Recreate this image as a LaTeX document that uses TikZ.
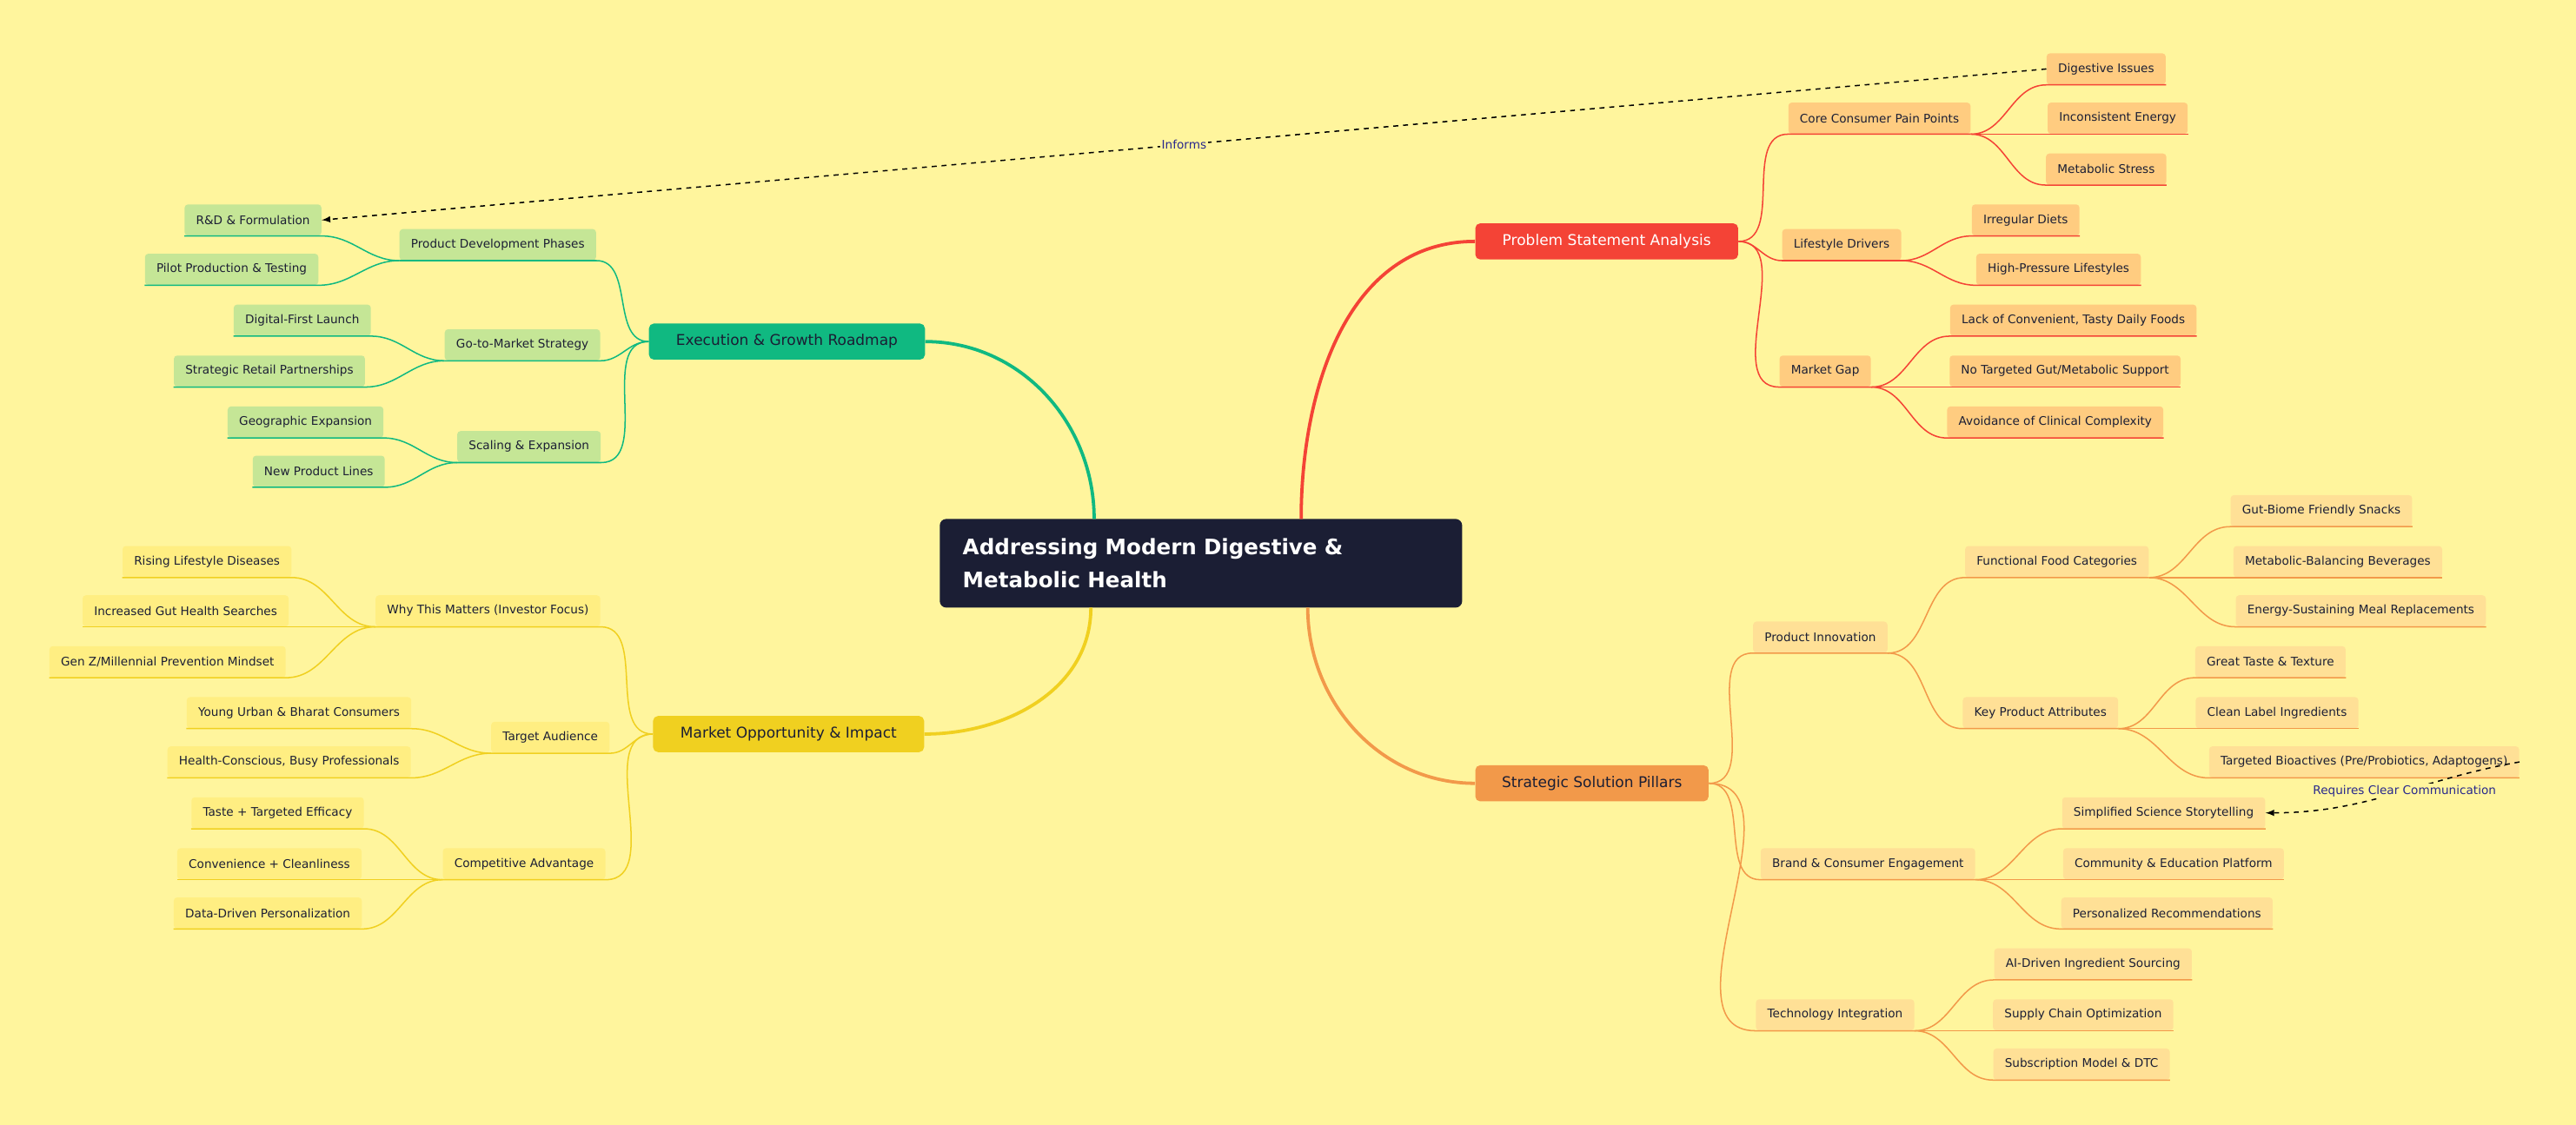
\documentclass[tikz,border=0pt]{standalone}
\usepackage{fontspec}
\setmainfont{DejaVu Sans}
\usetikzlibrary{positioning}
\definecolor{bgcol}{RGB}{255,245,157}
\definecolor{navy}{RGB}{27,30,52}
\definecolor{redc}{RGB}{244,67,54}
\definecolor{redl}{RGB}{255,204,128}
\definecolor{orac}{RGB}{242,153,74}
\definecolor{oral}{RGB}{255,224,150}
\definecolor{grec}{RGB}{16,185,129}
\definecolor{grel}{RGB}{197,230,150}
\definecolor{yelc}{RGB}{240,208,32}
\definecolor{yell}{RGB}{255,238,130}
\definecolor{linkc}{RGB}{40,40,140}
\tikzset{
  leaf/.style={fill=#1, rounded corners=2pt, inner xsep=7pt, minimum height=19pt, font=\fontsize{7.2}{8}\selectfont, text=navy},
  main/.style={fill=#1, rounded corners=3pt, inner xsep=10pt, minimum height=22pt, font=\fontsize{9}{10}\selectfont},
  br/.style={draw=#1, line width=0.8pt},
  trunk/.style={draw=#1, line width=2pt},
  link/.style={draw=black, dashed, line width=0.8pt, -latex},
  lbl/.style={fill=bgcol, inner sep=1pt, text=linkc, font=\fontsize{7.2}{8}\selectfont}
}
\begin{document}
\begin{tikzpicture}[x=1pt,y=-1pt]
\fill[bgcol] (0,0) rectangle (1568,685);
\useasboundingbox (0,0) rectangle (1568,685);
% centre
\node[fill=navy, rounded corners=4pt, text=white, align=left, font=\fontsize{13}{20}\selectfont\bfseries, minimum width=318pt, minimum height=54pt, text width=290pt] (root) at (731,343) {Addressing Modern Digestive \&\\Metabolic Health};
% main branches
\node[main=redc, text=white, minimum width=160pt] (prob) at (978,147) {Problem Statement Analysis};
\node[main=orac, text=navy, minimum width=142pt] (sol) at (969,477) {Strategic Solution Pillars};
\node[main=grec, text=navy, minimum width=168pt] (exe) at (479,208) {Execution \& Growth Roadmap};
\node[main=yelc, text=navy, minimum width=165pt] (mkt) at (480,447) {Market Opportunity \& Impact};
\draw[trunk=redc] (792,316) to[out=90,in=180] (prob.west);
\draw[trunk=orac] (796,370) to[out=-90,in=180] (sol.west);
\draw[trunk=grec] (666,316) to[out=90,in=0] (exe.east);
\draw[trunk=yelc] (664,370) to[out=-90,in=0] (mkt.east);
% problem
\node[leaf=redl] (pain) at (1144,72) {Core Consumer Pain Points};
\node[leaf=redl] (life) at (1121,149) {Lifestyle Drivers};
\node[leaf=redl] (gap) at (1111,226) {Market Gap};
\node[leaf=redl] (dig) at (1282,42) {Digestive Issues};
\node[leaf=redl] (ener) at (1289,72) {Inconsistent Energy};
\node[leaf=redl] (stress) at (1282,103) {Metabolic Stress};
\node[leaf=redl] (diet) at (1233,134) {Irregular Diets};
\node[leaf=redl] (press) at (1253,164) {High-Pressure Lifestyles};
\node[leaf=redl] (lack) at (1262,195) {Lack of Convenient, Tasty Daily Foods};
\node[leaf=redl] (notg) at (1257,226) {No Targeted Gut/Metabolic Support};
\node[leaf=redl] (avoid) at (1251,257) {Avoidance of Clinical Complexity};
\draw[br=redc] (prob.east) to[out=0,in=180] (pain.south west) -- (pain.south east);
\draw[br=redc] (prob.east) to[out=0,in=180] (life.south west) -- (life.south east);
\draw[br=redc] (prob.east) to[out=0,in=180] (gap.south west) -- (gap.south east);
\draw[br=redc] (pain.south east) to[out=0,in=180] (dig.south west) -- (dig.south east);
\draw[br=redc] (pain.south east) to[out=0,in=180] (ener.south west) -- (ener.south east);
\draw[br=redc] (pain.south east) to[out=0,in=180] (stress.south west) -- (stress.south east);
\draw[br=redc] (life.south east) to[out=0,in=180] (diet.south west) -- (diet.south east);
\draw[br=redc] (life.south east) to[out=0,in=180] (press.south west) -- (press.south east);
\draw[br=redc] (gap.south east) to[out=0,in=180] (lack.south west) -- (lack.south east);
\draw[br=redc] (gap.south east) to[out=0,in=180] (notg.south west) -- (notg.south east);
\draw[br=redc] (gap.south east) to[out=0,in=180] (avoid.south west) -- (avoid.south east);
% solution
\node[leaf=oral] (innov) at (1108,388) {Product Innovation};
\node[leaf=oral] (brand) at (1137,526) {Brand \& Consumer Engagement};
\node[leaf=oral] (tech) at (1117,618) {Technology Integration};
\node[leaf=oral] (func) at (1252,342) {Functional Food Categories};
\node[leaf=oral] (attr) at (1242,434) {Key Product Attributes};
\node[leaf=oral] (snack) at (1413,311) {Gut-Biome Friendly Snacks};
\node[leaf=oral] (bev) at (1423,342) {Metabolic-Balancing Beverages};
\node[leaf=oral] (meal) at (1437,372) {Energy-Sustaining Meal Replacements};
\node[leaf=oral] (taste) at (1382,403) {Great Taste \& Texture};
\node[leaf=oral] (clean) at (1386,434) {Clean Label Ingredients};
\node[leaf=oral] (bio) at (1439,464) {Targeted Bioactives (Pre/Probiotics, Adaptogens)};
\node[leaf=oral] (story) at (1317,495) {Simplified Science Storytelling};
\node[leaf=oral] (comm) at (1323,526) {Community \& Education Platform};
\node[leaf=oral] (pers) at (1319,556) {Personalized Recommendations};
\node[leaf=oral] (ai) at (1274,587) {AI-Driven Ingredient Sourcing};
\node[leaf=oral] (chain) at (1268,618) {Supply Chain Optimization};
\node[leaf=oral] (subs) at (1267,648) {Subscription Model \& DTC};
\draw[br=orac] (sol.east) to[out=0,in=180] (innov.south west) -- (innov.south east);
\draw[br=orac] (sol.east) to[out=0,in=180] (brand.south west) -- (brand.south east);
\draw[br=orac] (sol.east) to[out=0,in=180] (tech.south west) -- (tech.south east);
\draw[br=orac] (innov.south east) to[out=0,in=180] (func.south west) -- (func.south east);
\draw[br=orac] (innov.south east) to[out=0,in=180] (attr.south west) -- (attr.south east);
\draw[br=orac] (func.south east) to[out=0,in=180] (snack.south west) -- (snack.south east);
\draw[br=orac] (func.south east) to[out=0,in=180] (bev.south west) -- (bev.south east);
\draw[br=orac] (func.south east) to[out=0,in=180] (meal.south west) -- (meal.south east);
\draw[br=orac] (attr.south east) to[out=0,in=180] (taste.south west) -- (taste.south east);
\draw[br=orac] (attr.south east) to[out=0,in=180] (clean.south west) -- (clean.south east);
\draw[br=orac] (attr.south east) to[out=0,in=180] (bio.south west) -- (bio.south east);
\draw[br=orac] (brand.south east) to[out=0,in=180] (story.south west) -- (story.south east);
\draw[br=orac] (brand.south east) to[out=0,in=180] (comm.south west) -- (comm.south east);
\draw[br=orac] (brand.south east) to[out=0,in=180] (pers.south west) -- (pers.south east);
\draw[br=orac] (tech.south east) to[out=0,in=180] (ai.south west) -- (ai.south east);
\draw[br=orac] (tech.south east) to[out=0,in=180] (chain.south west) -- (chain.south east);
\draw[br=orac] (tech.south east) to[out=0,in=180] (subs.south west) -- (subs.south east);
% execution
\node[leaf=grel] (pdev) at (303,149) {Product Development Phases};
\node[leaf=grel] (gtm) at (318,210) {Go-to-Market Strategy};
\node[leaf=grel] (scale) at (322,272) {Scaling \& Expansion};
\node[leaf=grel] (rnd) at (154,134) {R\&D \& Formulation};
\node[leaf=grel] (pilot) at (141,164) {Pilot Production \& Testing};
\node[leaf=grel] (digi) at (184,195) {Digital-First Launch};
\node[leaf=grel] (retail) at (164,226) {Strategic Retail Partnerships};
\node[leaf=grel] (geo) at (186,257) {Geographic Expansion};
\node[leaf=grel] (lines) at (194,287) {New Product Lines};
\draw[br=grec] (exe.west) to[out=180,in=0] (pdev.south east) -- (pdev.south west);
\draw[br=grec] (exe.west) to[out=180,in=0] (gtm.south east) -- (gtm.south west);
\draw[br=grec] (exe.west) to[out=180,in=0] (scale.south east) -- (scale.south west);
\draw[br=grec] (pdev.south west) to[out=180,in=0] (rnd.south east) -- (rnd.south west);
\draw[br=grec] (pdev.south west) to[out=180,in=0] (pilot.south east) -- (pilot.south west);
\draw[br=grec] (gtm.south west) to[out=180,in=0] (digi.south east) -- (digi.south west);
\draw[br=grec] (gtm.south west) to[out=180,in=0] (retail.south east) -- (retail.south west);
\draw[br=grec] (scale.south west) to[out=180,in=0] (geo.south east) -- (geo.south west);
\draw[br=grec] (scale.south west) to[out=180,in=0] (lines.south east) -- (lines.south west);
% market
\node[leaf=yell] (why) at (297,372) {Why This Matters (Investor Focus)};
\node[leaf=yell] (aud) at (335,449) {Target Audience};
\node[leaf=yell] (adv) at (319,526) {Competitive Advantage};
\node[leaf=yell] (rise) at (126,342) {Rising Lifestyle Diseases};
\node[leaf=yell] (gut) at (113,372) {Increased Gut Health Searches};
\node[leaf=yell] (genz) at (102,403) {Gen Z/Millennial Prevention Mindset};
\node[leaf=yell] (young) at (182,434) {Young Urban \& Bharat Consumers};
\node[leaf=yell] (busy) at (176,464) {Health-Conscious, Busy Professionals};
\node[leaf=yell] (eff) at (169,495) {Taste + Targeted Efficacy};
\node[leaf=yell] (conv) at (164,526) {Convenience + Cleanliness};
\node[leaf=yell] (data) at (163,556) {Data-Driven Personalization};
\draw[br=yelc] (mkt.west) to[out=180,in=0] (why.south east) -- (why.south west);
\draw[br=yelc] (mkt.west) to[out=180,in=0] (aud.south east) -- (aud.south west);
\draw[br=yelc] (mkt.west) to[out=180,in=0] (adv.south east) -- (adv.south west);
\draw[br=yelc] (why.south west) to[out=180,in=0] (rise.south east) -- (rise.south west);
\draw[br=yelc] (why.south west) to[out=180,in=0] (gut.south east) -- (gut.south west);
\draw[br=yelc] (why.south west) to[out=180,in=0] (genz.south east) -- (genz.south west);
\draw[br=yelc] (aud.south west) to[out=180,in=0] (young.south east) -- (young.south west);
\draw[br=yelc] (aud.south west) to[out=180,in=0] (busy.south east) -- (busy.south west);
\draw[br=yelc] (adv.south west) to[out=180,in=0] (eff.south east) -- (eff.south west);
\draw[br=yelc] (adv.south west) to[out=180,in=0] (conv.south east) -- (conv.south west);
\draw[br=yelc] (adv.south west) to[out=180,in=0] (data.south east) -- (data.south west);
% cross links
\draw[link] (dig.west) -- node[lbl] {Informs} (rnd.east);
\draw[link] (bio.east) to[out=190,in=0] node[lbl, pos=0.45] {Requires Clear Communication} (story.east);
\end{tikzpicture}
\end{document}
